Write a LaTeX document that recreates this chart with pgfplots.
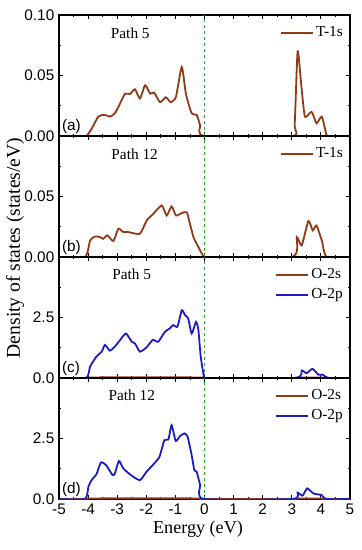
\documentclass[border=0pt]{standalone}
\usepackage{pgfplots}
\pgfplotsset{compat=1.18}
\usepgfplotslibrary{groupplots}
\usepackage{fontspec}
\setmainfont{Liberation Serif}
\setsansfont{Liberation Sans}
\definecolor{dbrown}{RGB}{145,58,22}
\definecolor{dblue}{RGB}{28,28,196}
\definecolor{dgreen}{RGB}{40,170,40}
\begin{document}
\begin{tikzpicture}[x=1pt,y=1pt]
\begin{groupplot}[
  group style={group size=1 by 4, vertical sep=0pt, x descriptions at=edge bottom},
  scale only axis, width=218.25pt, height=90.75pt,
  xmin=-5, xmax=5, xtick={-5,-4,...,5}, minor x tick num=1,
  tick align=inside, tick pos=both,
  minor y tick num=1,
  major tick length=3pt, minor tick length=1.8pt,
  every tick/.style={black, line width=0.6pt},
  axis line style={line width=0.8pt},
  tick label style={font=\sffamily\fontsize{11.5}{12}\selectfont},
  /pgf/number format/assume math mode=true,
  legend style={draw=none, fill=none, font=\fontsize{11.5}{12}\selectfont, at={(rel axis cs:0.99,0.94)}, anchor=north east, row sep=2pt, inner sep=1pt},
  legend cell align=left,
  legend image code/.code={\draw[#1, line width=1.4pt] (0pt,0pt) -- (24pt,0pt);},
  every axis plot/.append style={line width=1.35pt, mark=none, smooth, tension=0.35},
]
% (a)
\nextgroupplot[ymin=0, ymax=0.1, ytick={0,0.05,0.1},
  yticklabel style={/pgf/number format/fixed, /pgf/number format/precision=2, /pgf/number format/fixed zerofill}]
\addplot[dgreen, sharp plot, dash pattern=on 2.5pt off 2pt, line width=0.8pt, forget plot] coordinates {(0,0) (0,0.1)};
\addplot[dbrown] coordinates {
(-5,0) (-4.07,0) (-3.65,0.016) (-3.42,0.0174) (-3.25,0.016) (-3.08,0.0187) (-2.90,0.027) (-2.73,0.035) (-2.56,0.0347) (-2.39,0.0386) (-2.22,0.031) (-2.04,0.042) (-1.87,0.035) (-1.73,0.0358) (-1.53,0.028) (-1.33,0.032) (-1.16,0.028) (-0.98,0.0325) (-0.78,0.057) (-0.64,0.035) (-0.44,0.0187) (-0.27,0.0174) (-0.15,0.009) (0.0,0) (3.01,0) (3.10,0.01) (3.20,0.07) (3.32,0.0435) (3.45,0.016) (3.68,0.020) (3.85,0.0105) (4.03,0.016) (4.18,0.002) (4.26,0) (5,0)};
\addlegendentry{T-1s}
\node[anchor=center, font=\fontsize{11.5}{12}\selectfont] at (axis cs:-2.55,0.085) {Path 5};
\node[anchor=south west, inner sep=1pt, font=\sffamily\fontsize{11.5}{12}\selectfont] at (rel axis cs:0.005,0.01) {(a)};
% (b)
\nextgroupplot[ymin=0, ymax=0.1, ytick={0,0.05}, minor ytick={0.025,0.075},
  yticklabel style={/pgf/number format/fixed, /pgf/number format/precision=2, /pgf/number format/fixed zerofill}]
\addplot[dgreen, sharp plot, dash pattern=on 2.5pt off 2pt, line width=0.8pt, forget plot] coordinates {(0,0) (0,0.1)};
\addplot[dbrown] coordinates {
(-5,0) (-4.11,0) (-3.93,0.0137) (-3.76,0.017) (-3.59,0.0165) (-3.48,0.015) (-3.34,0.0179) (-3.13,0.0132) (-2.96,0.0234) (-2.79,0.0206) (-2.62,0.0206) (-2.22,0.0192) (-1.99,0.030) (-1.76,0.0357) (-1.47,0.0426) (-1.30,0.0343) (-1.13,0.0418) (-0.98,0.0343) (-0.78,0.0363) (-0.61,0.037) (-0.50,0.0275) (-0.38,0.0165) (-0.27,0.011) (-0.04,0.0005) (0,0) (3.0,0) (3.17,0.0165) (3.34,0.0096) (3.57,0.0297) (3.72,0.022) (3.85,0.026) (4.03,0.0137) (4.20,0) (5,0)};
\addlegendentry{T-1s}
\node[anchor=center, font=\fontsize{11.5}{12}\selectfont] at (axis cs:-2.4,0.085) {Path 12};
\node[anchor=south west, inner sep=1pt, font=\sffamily\fontsize{11.5}{12}\selectfont] at (rel axis cs:0.005,0.01) {(b)};
% (c)
\nextgroupplot[ymin=0, ymax=5, ytick={0,2.5}, minor ytick={1.25,3.75},
  yticklabel style={/pgf/number format/fixed, /pgf/number format/precision=1, /pgf/number format/fixed zerofill}]
\addplot[dgreen, sharp plot, dash pattern=on 2.5pt off 2pt, line width=0.8pt, forget plot] coordinates {(0,0) (0,5)};
\addplot[dbrown] coordinates {(-5,0) (-4.1,0) (-4.0,0.02) (-3,0.03) (-2,0.03) (-1,0.03) (-0.1,0.02) (0,0) (3,0) (3.2,0.02) (4,0.02) (4.2,0) (5,0)};
\addlegendentry{O-2s}
\addplot[dblue] coordinates {
(-5,0) (-4.07,0) (-3.93,0.48) (-3.71,0.89) (-3.53,1.09) (-3.42,1.37) (-3.25,1.13) (-3.08,1.30) (-2.90,1.57) (-2.70,1.84) (-2.50,1.50) (-2.39,1.43) (-2.22,1.09) (-1.99,1.27) (-1.78,1.57) (-1.59,1.50) (-1.36,1.91) (-1.19,2.05) (-1.07,2.19) (-0.93,2.12) (-0.78,2.80) (-0.67,2.60) (-0.56,2.46) (-0.44,1.84) (-0.29,2.32) (-0.21,1.98) (-0.13,0.89) (-0.02,0.07) (0.07,0) (3.11,0) (3.34,0.31) (3.51,0.20) (3.71,0.38) (3.91,0.14) (4.06,0.14) (4.26,0) (5,0)};
\addlegendentry{O-2p}
\node[anchor=center, font=\fontsize{11.5}{12}\selectfont] at (axis cs:-2.5,4.3) {Path 5};
\node[anchor=south west, inner sep=1pt, font=\sffamily\fontsize{11.5}{12}\selectfont] at (rel axis cs:0.005,0.01) {(c)};
% (d)
\nextgroupplot[ymin=0, ymax=5, ytick={0,2.5}, minor ytick={1.25,3.75},
  yticklabel style={/pgf/number format/fixed, /pgf/number format/precision=1, /pgf/number format/fixed zerofill}]
\addplot[dgreen, sharp plot, dash pattern=on 2.5pt off 2pt, line width=0.8pt, forget plot] coordinates {(0,0) (0,5)};
\addplot[dbrown] coordinates {(-5,0) (-4.1,0) (-4.0,0.02) (-3,0.03) (-2,0.03) (-1,0.03) (-0.1,0.02) (0,0) (3,0) (3.2,0.02) (4,0.02) (4.2,0) (5,0)};
\addlegendentry{O-2s}
\addplot[dblue] coordinates {
(-5,0) (-4.11,0) (-3.99,0.51) (-3.88,0.78) (-3.71,1.03) (-3.56,1.51) (-3.38,1.40) (-3.16,0.99) (-3.08,1.06) (-2.94,1.57) (-2.79,1.26) (-2.53,0.99) (-2.22,0.78) (-1.99,1.13) (-1.78,1.40) (-1.55,1.74) (-1.38,2.43) (-1.24,2.46) (-1.13,3.05) (-0.99,2.40) (-0.84,2.60) (-0.69,2.71) (-0.58,2.57) (-0.44,1.81) (-0.35,1.19) (-0.27,1.13) (-0.15,0.58) (-0.02,0) (3.02,0) (3.20,0.26) (3.37,0.14) (3.53,0.44) (3.74,0.23) (4.03,0.16) (4.18,0) (5,0)};
\addlegendentry{O-2p}
\node[anchor=center, font=\fontsize{11.5}{12}\selectfont] at (axis cs:-2.5,4.3) {Path 12};
\node[anchor=south west, inner sep=1pt, font=\sffamily\fontsize{11.5}{12}\selectfont] at (rel axis cs:0.005,0.01) {(d)};
\end{groupplot}
\node[rotate=90, anchor=center, font=\fontsize{14.7}{15}\selectfont] at ([shift={(-33pt,-174.75pt)}]group c1r1.north west) {Density of states (states/eV)};
\node[anchor=center, font=\fontsize{13.6}{14}\selectfont] at ([shift={(104.25pt,-385.5pt)}]group c1r1.north west) {Energy (eV)};
\pgfresetboundingbox
\path ([shift={(-44.25pt,11.25pt)}]group c1r1.north west) rectangle ([shift={(226.5pt,-401.25pt)}]group c1r1.north west);
\end{tikzpicture}
\end{document}
